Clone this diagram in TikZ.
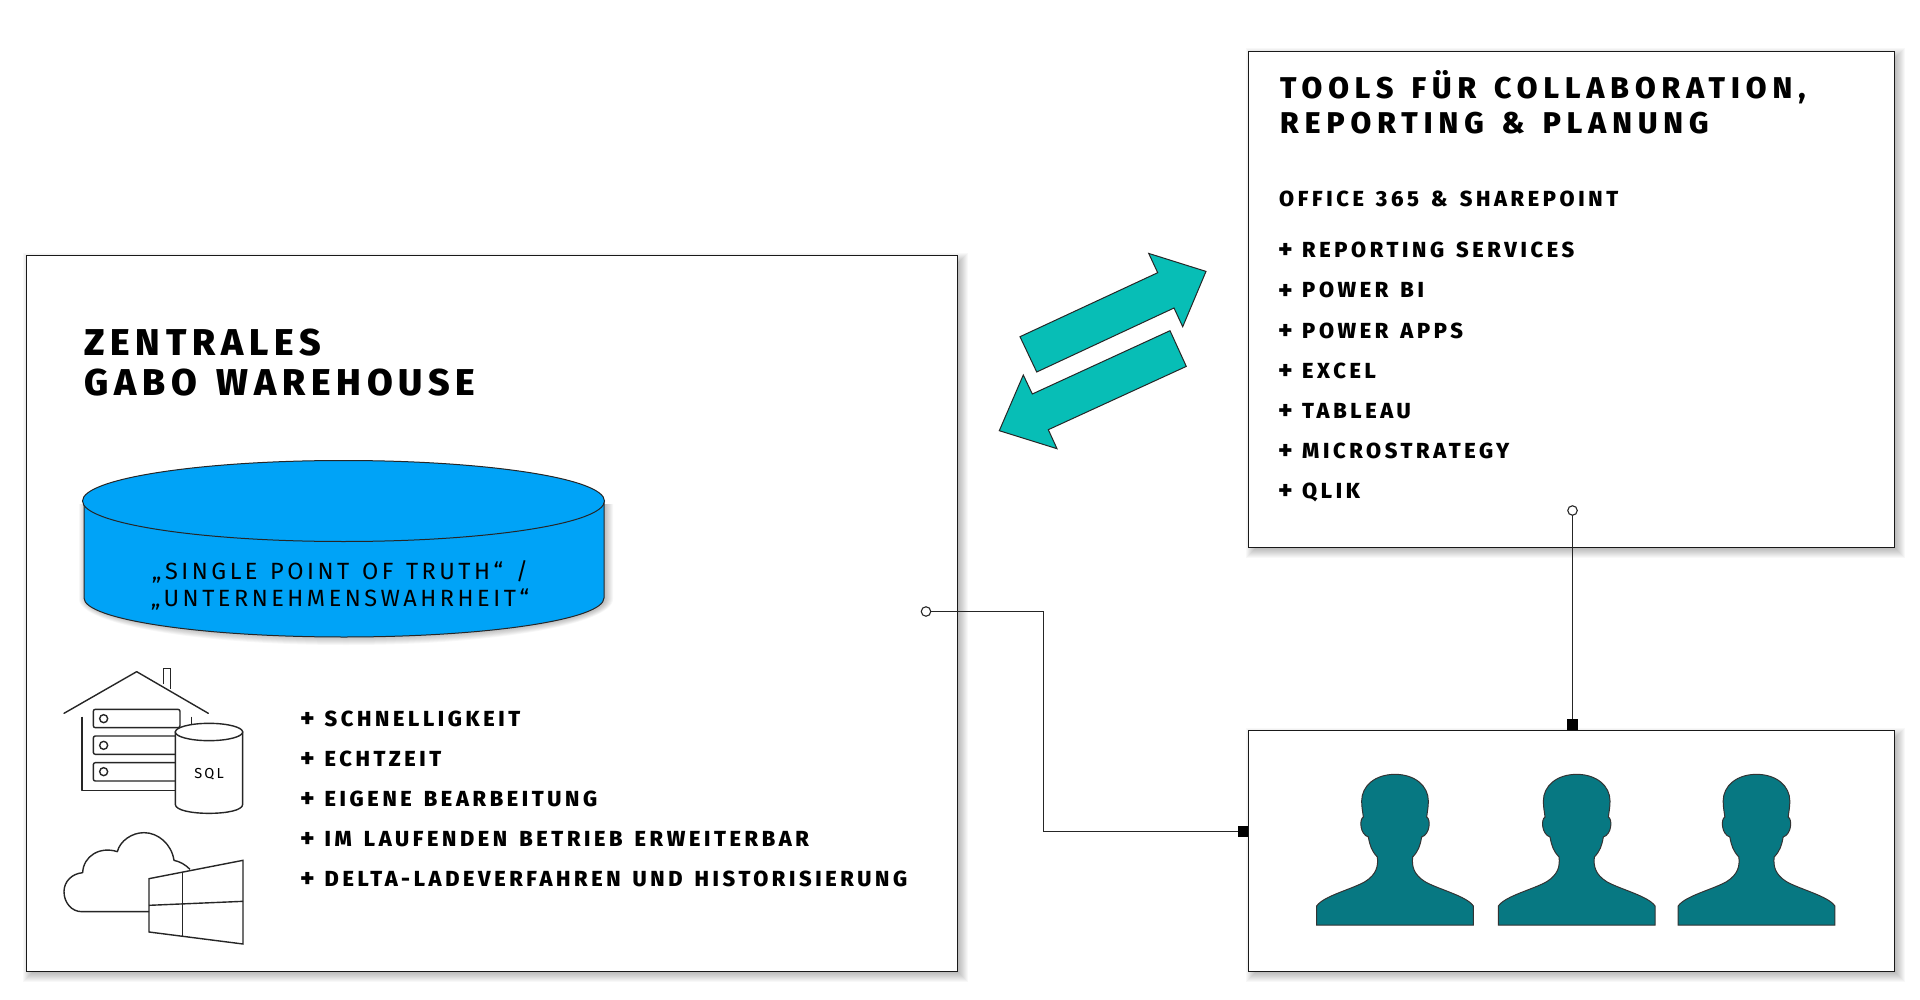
\documentclass[tikz,border=0pt]{standalone}
\usepackage{fontspec}
\setmainfont{Fira Sans}
\newfontfamily\ttlfont[LetterSpace=20,WordSpace=1.4]{Fira Sans ExtraBold}
\newfontfamily\bigfont[LetterSpace=15.5,WordSpace=1.4]{Fira Sans ExtraBold}
\newfontfamily\lstfont[LetterSpace=16.6,WordSpace=1.4]{Fira Sans ExtraBold}
\newfontfamily\cylfont[LetterSpace=15,WordSpace=1.3]{Fira Sans}
\definecolor{cylblue}{RGB}{0,163,247}
\definecolor{arrowteal}{RGB}{7,190,182}
\definecolor{personteal}{RGB}{7,120,130}
\tikzset{
  x=1pt,y=-1pt,
  panel/.style={draw=black!90,fill=white,line width=1pt,anchor=north west,inner sep=0pt,outer sep=0pt},
  title/.style={anchor=base west,inner sep=0pt,font=\ttlfont\fontsize{30}{36}\selectfont},
  bigtitle/.style={anchor=base west,inner sep=0pt,font=\bigfont\fontsize{37.3}{42}\selectfont},
  item/.style={anchor=base west,inner sep=0pt,font=\lstfont\fontsize{21.8}{26}\selectfont},
  plusmark/.style={anchor=base west,inner sep=0pt,yshift=-1.2pt,font=\lstfont\fontsize{27}{30}\selectfont},
  cyl/.style={anchor=base,inner sep=0pt,font=\cylfont\fontsize{23.5}{28}\selectfont},
  conn/.style={draw=black!85,line width=1.1pt},
  startdot/.style={circle,draw=black!85,fill=white,line width=1.1pt,minimum size=9.5pt,inner sep=0pt,outer sep=0pt},
  enddot/.style={rectangle,fill=black,minimum size=10.5pt,inner sep=0pt,outer sep=0pt},
  icon/.style={line width=1.4pt,draw=black!85},
  flow/.style={fill=arrowteal,draw=black!85,line width=1pt,line join=miter},
  person/.style={fill=personteal,draw=black!80,line width=1pt},
}
\newcommand{\softshadow}[4]{%
  \foreach \e in {0,1,...,9}{
    \fill[black,opacity=0.028] (#1+6-\e,#2+6-\e) rectangle (#3+1+\e,#4+1+\e);
  }}
\newcommand{\personshape}[1]{%
  \begin{scope}[shift={(#1,925)},scale=0.33333]
    \path[person] (-235,0) -- (-235,-57) .. controls (-215,-87) and (-130,-107) .. (-90,-130)
      .. controls (-55,-152) and (-50,-177) .. (-53,-204)
      .. controls (-70,-222) and (-75,-237) .. (-80,-264)
      .. controls (-105,-272) and (-108,-317) .. (-95,-324)
      .. controls (-97,-342) and (-100,-352) .. (-100,-372)
      .. controls (-100,-417) and (-60,-452) .. (0,-452)
      .. controls (60,-452) and (100,-417) .. (100,-372)
      .. controls (100,-352) and (97,-342) .. (95,-324)
      .. controls (108,-317) and (105,-272) .. (80,-264)
      .. controls (75,-237) and (70,-222) .. (53,-204)
      .. controls (50,-177) and (55,-152) .. (90,-130)
      .. controls (130,-107) and (215,-87) .. (235,-57)
      -- (235,0) -- cycle;
  \end{scope}}
\begin{document}
\begin{tikzpicture}
\useasboundingbox (0,0) rectangle (1920,1000);
\fill[white] (0,0) rectangle (1920,1000);
% panels
\softshadow{26}{256}{957.5}{971.5}
\softshadow{1248.5}{51.5}{1894.5}{547.5}
\softshadow{1248.5}{730.5}{1894.5}{971.5}
\node[panel,minimum width=931.5pt,minimum height=715.5pt] (wh) at (26,256) {};
\node[panel,minimum width=646pt,minimum height=496pt] (tools) at (1248.5,51.5) {};
\node[panel,minimum width=646pt,minimum height=241pt] (users) at (1248.5,730.5) {};
% titles
\node[bigtitle] (t1) at (84,355.2) {ZENTRALES};
\node[bigtitle] (t2) at (84,395.6) {GABO WAREHOUSE};
\node[title] (t3) at (1280,98.3) {TOOLS FÜR COLLABORATION,};
\node[title] (t4) at (1280,133.7) {REPORTING \& PLANUNG};
% tools list
\node[item] (o1) at (1279,206.7) {OFFICE 365 \& SHAREPOINT};
\foreach \n/\y/\txt in {a/257.7/REPORTING SERVICES,b/297.9/POWER BI,c/338/POWER APPS,d/378/EXCEL,e/418/TABLEAU,f/458/MICROSTRATEGY,g/498.4/QLIK}{
  \node[plusmark] (p\n) at (1278,\y) {+};
  \node[item] (q\n) at (1302,\y) {\txt};
}
% cylinder
\foreach \e in {0,1,...,7}{
  \fill[black,opacity=0.03] (84-\e+2,504) -- (604+\e+2,504) -- (604+\e+2,599)
     arc[start angle=0,delta angle=180,x radius=260+\e,y radius=39+\e] -- cycle;
}
\path[fill=cylblue,draw=black!85,line width=1pt] (84,501) -- (84,598) .. controls (84,619.5) and (201,637) .. (344,637) .. controls (487,637) and (604,619.5) .. (604,598) -- (604,501) -- cycle;
\path[fill=cylblue,draw=black!85,line width=1pt] (343.5,501) ellipse[x radius=261,y radius=40.5];
\node[cyl] (s1) at (340,579.3) {„SINGLE POINT OF TRUTH“ /};
\node[cyl] (s2) at (340,606) {„UNTERNEHMENSWAHRHEIT“};
% left list
\foreach \n/\y/\txt in {a/726/SCHNELLIGKEIT,b/766/ECHTZEIT,c/806/EIGENE BEARBEITUNG,d/846/IM LAUFENDEN BETRIEB ERWEITERBAR,e/886/DELTA-LADEVERFAHREN UND HISTORISIERUNG}{
  \node[plusmark] (lp\n) at (300,\y) {+};
  \node[item] (lq\n) at (324.5,\y) {\txt};
}
% icons
\begin{scope}[shift={(40,651)},scale=0.33333]
  \draw[icon,line cap=round,line join=round] (72,187) -- (290,62) -- (505,187);
  \draw[icon] (370,100) -- (370,53) -- (392,53) -- (392,115);
  \draw[icon,line join=round] (126,197) -- (126,418) -- (410,418);
  \draw[icon] (454,197) -- (454,225);
  \foreach \a/\b/\c in {175/230/203,255/310/283,335/390/362}{
    \draw[icon,rounded corners=2pt] (160,\a) rectangle (420,\b);
    \draw[icon] (191,\c) circle[radius=12];
  }
  \path[icon,fill=white] (406,243) -- (406,460) .. controls (406,478) and (455,487) .. (507,487) .. controls (560,487) and (608,478) .. (608,460) -- (608,243) -- cycle;
  \path[icon,fill=white] (507,243) ellipse[x radius=101,y radius=26];
  \draw[icon,line join=round] (450,655) .. controls (435,640) and (420,632) .. (402,628)
     .. controls (395,580) and (355,545) .. (312,545)
     .. controls (275,545) and (240,570) .. (232,602)
     .. controls (180,585) and (130,615) .. (128,665)
     .. controls (95,668) and (72,692) .. (72,722)
     .. controls (72,755) and (95,782) .. (125,782) -- (327,782);
  \draw[icon] (327,683) -- (609,628) -- (609,879) -- (327,843) -- cycle;
  \draw[icon] (427,665) -- (427,855);
  \draw[icon] (327,763) -- (609,751);
\end{scope}
\node[anchor=center,inner sep=0pt,font=\cylfont\fontsize{14.5}{16}\selectfont] (sql) at (209,773.7) {SQL};
% arrows
\begin{scope}[yshift=-0.7pt]
\path[flow] (1020,336) -- (1157.7,272) -- (1148.7,252.7) -- (1206,270.7) -- (1182.7,326) -- (1174,307.3) -- (1036.7,371.3) -- cycle;
\path[flow] (1170,330) -- (1186.3,365.7) -- (1048.3,429) -- (1057,448) -- (999.3,430) -- (1023.3,374.3) -- (1032.3,393.3) -- cycle;
\end{scope}
% people
\personshape{1395}
\personshape{1576.7}
\personshape{1756.5}
% connectors
\node[startdot] (c1) at (926,611.5) {};
\node[enddot] (e1) at (1243,831.5) {};
\coordinate (bend) at (1043.5,700);
\draw[conn] (c1) -| (bend) |- (e1);
\node[startdot] (c2) at (1572.5,510.5) {};
\node[enddot] (e2) at (1572.5,724.5) {};
\draw[conn] (c2) -- (e2);
\end{tikzpicture}
\end{document}
